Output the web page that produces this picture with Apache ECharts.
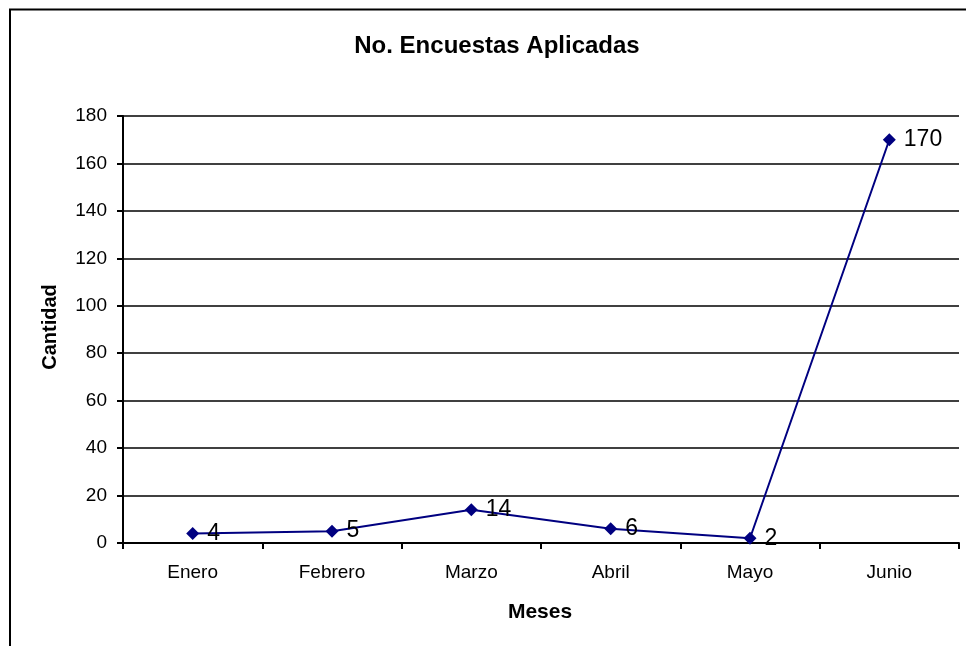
<!DOCTYPE html>
<html>
<head>
<meta charset="utf-8">
<script src="https://cdn.jsdelivr.net/npm/echarts@6/dist/echarts.min.js"></script>
<style>
  html, body { margin: 0; padding: 0; background: #fff; }
  #chart { width: 966px; height: 646px; }
</style>
</head>
<body>
<div id="chart"></div>
<script>
// Monthly survey counts
const months = ['Enero', 'Febrero', 'Marzo', 'Abril', 'Mayo', 'Junio'];
const surveys = [4, 5, 14, 6, 2, 170];
const yTicks = { min: 0, max: 180, step: 20 };

const FONT = 'Arial, "Liberation Sans", sans-serif';

const chart = echarts.init(document.getElementById('chart'), null, { renderer: 'canvas' });

chart.setOption({
  backgroundColor: '#ffffff',
  animation: false,
  title: {
    text: 'No. Encuestas Aplicadas',
    left: 492,
    top: 29,
    textAlign: 'center',
    textStyle: { fontFamily: FONT, fontSize: 24, fontWeight: 'bold', color: '#000' }
  },
  graphic: [
    {
      // outer chart frame (runs off the right and bottom edges)
      type: 'rect',
      shape: { x: 10, y: 9.5, width: 1000, height: 700 },
      style: { fill: null, stroke: '#000', lineWidth: 2 },
      silent: true
    },
    {
      type: 'text',
      x: 540,
      y: 612,
      style: {
        text: 'Meses',
        font: 'bold 21px ' + FONT,
        fill: '#000',
        align: 'center',
        verticalAlign: 'middle'
      }
    },
    {
      type: 'text',
      rotation: Math.PI / 2,
      x: 50,
      y: 327,
      style: {
        text: 'Cantidad',
        font: 'bold 20px ' + FONT,
        fill: '#000',
        align: 'center',
        verticalAlign: 'middle'
      }
    }
  ],
  grid: { left: 123, right: 7, top: 116, bottom: 103, containLabel: false },
  xAxis: {
    type: 'category',
    data: months,
    boundaryGap: true,
    axisLine: { lineStyle: { color: '#000', width: 2 } },
    axisTick: { show: true, length: 6, lineStyle: { color: '#000', width: 2 } },
    axisLabel: { fontFamily: FONT, fontSize: 19, color: '#000', margin: 20 },
    splitLine: { show: false }
  },
  yAxis: {
    type: 'value',
    min: yTicks.min,
    max: yTicks.max,
    interval: yTicks.step,
    axisLine: { show: true, lineStyle: { color: '#000', width: 2 } },
    axisTick: { show: true, length: 6, lineStyle: { color: '#000', width: 2 } },
    axisLabel: { fontFamily: FONT, fontSize: 19, color: '#000', margin: 16 },
    splitLine: { show: true, lineStyle: { color: '#000', width: 1.5 } }
  },
  series: [{
    type: 'line',
    data: surveys,
    symbol: 'diamond',
    symbolSize: 13,
    lineStyle: { color: '#000080', width: 2 },
    itemStyle: { color: '#000080' },
    label: {
      show: true,
      position: 'right',
      distance: 8,
      fontFamily: FONT,
      fontSize: 23,
      color: '#000'
    }
  }]
});
</script>
</body>
</html>
